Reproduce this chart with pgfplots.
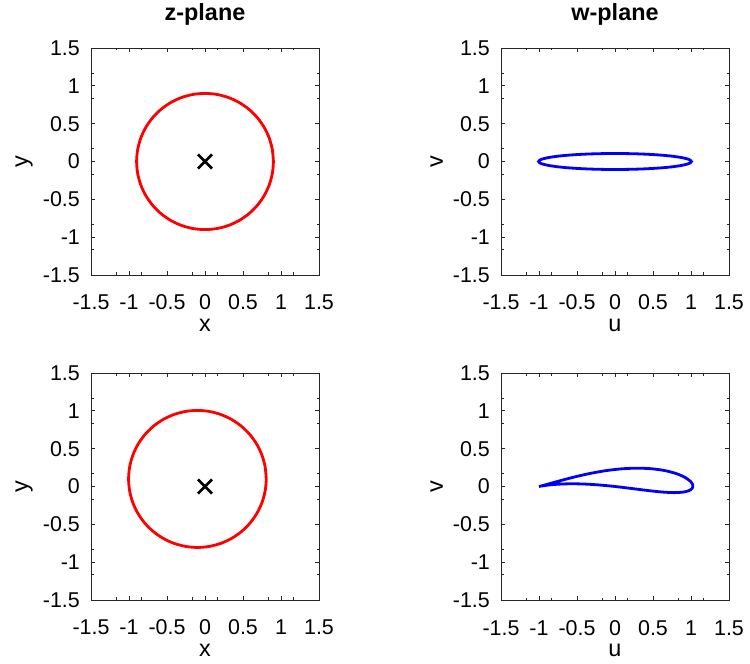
\documentclass[border=0pt]{standalone}
\usepackage{fontspec}
\setmainfont{Liberation Sans}
\usepackage{pgfplots}
\pgfplotsset{compat=1.18}
\newcommand{\tickfont}{\fontsize{21.5}{21.5}\selectfont}
\newcommand{\labfont}{\fontsize{23.5}{23.5}\selectfont}
\pgfplotsset{
  jplane/.style={
    scale only axis, width=228bp, height=227bp,
    xmin=-1.5, xmax=1.5, ymin=-1.5, ymax=1.5,
    xtick={-1.5,-1,-0.5,0,0.5,1,1.5},
    ytick={-1.5,-1,-0.5,0,0.5,1,1.5},
    xticklabels={-1.5,-1,-0.5,0,0.5,1,1.5},
    yticklabels={-1.5,-1,-0.5,0,0.5,1,1.5},
    minor xtick={-1.1667,-0.8333,-0.1667,0.1667,0.8333,1.1667},
    minor ytick={-1.1667,-0.8333,-0.1667,0.1667,0.8333,1.1667},
    tick align=inside,
    major tick length=4bp, minor tick length=2.5bp,
    axis line style={line width=0.8bp, draw=black!85},
    every tick/.style={line width=0.8bp, draw=black!85},
    xticklabel style={font=\tickfont, anchor=base, inner sep=0pt, yshift=-35bp},
    yticklabel style={font=\tickfont, anchor=east, inner sep=0pt, xshift=-11bp},
    title style={font=\bfseries\labfont, at={(axis description cs:0.5,1)}, anchor=base, yshift=22bp},
    xlabel style={font=\labfont, at={(axis description cs:0.5,0)}, anchor=base, yshift=-56.7bp},
    ylabel style={font=\labfont, at={(axis description cs:-0.2544,0.5)}, anchor=south, inner sep=0pt, rotate=0},
  },
  zcirc/.style={draw=red, line width=2.8bp, smooth, no marks},
  wcurve/.style={draw=blue, line width=2.8bp, smooth, no marks},
  zmark/.style={only marks, mark=x, mark size=10bp, line width=2.8bp, black},
}
\begin{document}
\begin{tikzpicture}
\path[use as bounding box] (0,0) rectangle (750bp,664bp);
% top-left
\begin{axis}[jplane, at={(91bp,389bp)}, anchor=south west, title={z-plane}, xlabel={x}, ylabel={y}]
\addplot[zcirc] coordinates {
(0.9,0) (0.88633,0.15629) (0.84572,0.30782) (0.77942,0.45) (0.68944,0.57851) (0.57851,0.68944)
(0.45,0.77942) (0.30782,0.84572) (0.15629,0.88633) (0,0.9) (-0.15629,0.88633) (-0.30782,0.84572)
(-0.45,0.77942) (-0.57851,0.68944) (-0.68944,0.57851) (-0.77942,0.45) (-0.84572,0.30782) (-0.88633,0.15629)
(-0.9,0) (-0.88633,-0.15629) (-0.84572,-0.30782) (-0.77942,-0.45) (-0.68944,-0.57851) (-0.57851,-0.68944)
(-0.45,-0.77942) (-0.30782,-0.84572) (-0.15629,-0.88633) (0,-0.9) (0.15629,-0.88633) (0.30782,-0.84572)
(0.45,-0.77942) (0.57851,-0.68944) (0.68944,-0.57851) (0.77942,-0.45) (0.84572,-0.30782) (0.88633,-0.15629)
(0.9,0) (0.88633,0.15629)};
\addplot[zmark] coordinates {(0,0)};
\end{axis}
% top-right
\begin{axis}[jplane, at={(501bp,389bp)}, anchor=south west, title={w-plane}, xlabel={u}, ylabel={v}]
\addplot[wcurve] coordinates {
(1.00556,0) (0.99028,0.01833) (0.94491,0.03610) (0.87084,0.05278) (0.77030,0.06785) (0.64636,0.08086)
(0.50278,0.09141) (0.34392,0.09919) (0.17461,0.10395) (0,0.10556) (-0.17461,0.10395) (-0.34392,0.09919)
(-0.50278,0.09141) (-0.64636,0.08086) (-0.77030,0.06785) (-0.87084,0.05278) (-0.94491,0.03610) (-0.99028,0.01833)
(-1.00556,0) (-0.99028,-0.01833) (-0.94491,-0.03610) (-0.87084,-0.05278) (-0.77030,-0.06785) (-0.64636,-0.08086)
(-0.50278,-0.09141) (-0.34392,-0.09919) (-0.17461,-0.10395) (0,-0.10556) (0.17461,-0.10395) (0.34392,-0.09919)
(0.50278,-0.09141) (0.64636,-0.08086) (0.77030,-0.06785) (0.87084,-0.05278) (0.94491,-0.03610) (0.99028,-0.01833)
(1.00556,0) (0.99028,0.01833)};
\end{axis}
% bottom-left
\begin{axis}[jplane, at={(91bp,64bp)}, anchor=south west, xlabel={x}, ylabel={y}]
\addplot[zcirc] coordinates {
(0.80554,0.1) (0.79178,0.25725) (0.75093,0.40971) (0.68422,0.55277) (0.59368,0.68207) (0.48207,0.79368)
(0.35277,0.88422) (0.20971,0.95093) (0.05725,0.99178) (-0.1,1.00554) (-0.25725,0.99178) (-0.40971,0.95093)
(-0.55277,0.88422) (-0.68207,0.79368) (-0.79368,0.68207) (-0.88422,0.55277) (-0.95093,0.40971) (-0.99178,0.25725)
(-1.00554,0.1) (-0.99178,-0.05725) (-0.95093,-0.20971) (-0.88422,-0.35277) (-0.79368,-0.48207) (-0.68207,-0.59368)
(-0.55277,-0.68422) (-0.40971,-0.75093) (-0.25725,-0.79178) (-0.1,-0.80554) (0.05725,-0.79178) (0.20971,-0.75093)
(0.35277,-0.68422) (0.48207,-0.59368) (0.59368,-0.48207) (0.68422,-0.35277) (0.75093,-0.20971) (0.79178,-0.05725)
(0.80554,0.1) (0.79178,0.25725)};
\addplot[zmark] coordinates {(0,0)};
\end{axis}
% bottom-right
\begin{axis}[jplane, at={(501bp,64bp)}, anchor=south west, xlabel={u}, ylabel={v}]
\addplot[wcurve] coordinates {
(1.01405,-0.02589) (0.99486,-0.04300) (0.96708,-0.05696) (0.93141,-0.06765) (0.88857,-0.07510)
(0.78428,-0.08083) (0.65987,-0.07604) (0.52055,-0.06336) (0.37101,-0.04571) (0.21543,-0.02595)
(0.05763,-0.00658) (-0.09897,0.01039) (-0.25115,0.02353) (-0.39593,0.03199) (-0.53056,0.03553)
(-0.65244,0.03448) (-0.75920,0.02963) (-0.84869,0.02221) (-0.91894,0.01378) (-0.96825,0.00610)
(-0.99515,0.00103) (-1,0) (-0.99836,0.00038) (-0.97688,0.00572) (-0.92993,0.01824)
(-0.85704,0.03848) (-0.75811,0.06619) (-0.63360,0.10006) (-0.48481,0.13764) (-0.31421,0.17530)
(-0.12589,0.20851) (0.07405,0.23231) (0.27735,0.24221) (0.47403,0.23519) (0.65317,0.21071)
(0.80439,0.17110) (0.91942,0.12126) (0.99314,0.06764) (1.01392,0.04150) (1.02409,0.01680)
(1.02398,-0.00583) (1.01405,-0.02589) (0.99486,-0.04300)};
\end{axis}
\end{tikzpicture}
\end{document}
